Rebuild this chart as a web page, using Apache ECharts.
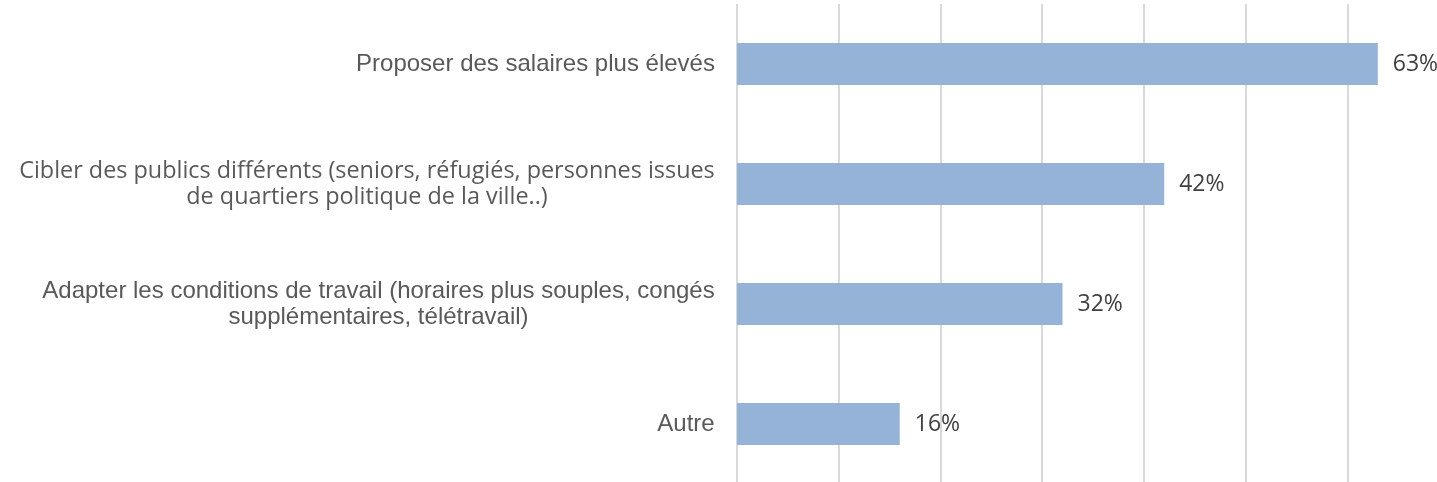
<!DOCTYPE html>
<html>
<head>
<meta charset="utf-8">
<script src="https://cdn.jsdelivr.net/npm/echarts@6/dist/echarts.min.js"></script>
<style>
  html, body { margin: 0; padding: 0; background: #fff; }
  #chart { width: 1437px; height: 482px; }
</style>
</head>
<body>
<div id="chart"></div>
<script>
const categories = [
  'Proposer des salaires plus élevés',
  'Cibler des publics différents (seniors, réfugiés, personnes issues\nde quartiers politique de la ville..)',
  'Adapter les conditions de travail (horaires plus souples, congés\nsupplémentaires, télétravail)',
  'Autre'
];
const values = [63, 42, 32, 16];

// the second label uses another typeface in the source
const fonts = ['Liberation Sans', 'Open Sans', 'Liberation Sans', 'Liberation Sans'];
const sizes = [24, 23.4, 24, 24];

// multi-line labels are centred on their longest line
const ctx = document.createElement('canvas').getContext('2d');
const rich = {};
categories.forEach((c, i) => {
  ctx.font = sizes[i] + 'px "' + fonts[i] + '"';
  const w = Math.max(...c.split('\n').map(l => ctx.measureText(l).width));
  rich['r' + i] = {
    width: Math.ceil(w) + 2,
    align: 'center',
    fontFamily: fonts[i],
    fontSize: sizes[i],
    lineHeight: 26,
    color: '#595959'
  };
});

const chart = echarts.init(document.getElementById('chart'));
chart.setOption({
  animation: false,
  grid: { left: 737, width: 712, top: 4, bottom: -2, outerBoundsMode: 'none' },
  xAxis: {
    type: 'value',
    min: 0,
    max: 70,
    interval: 10,
    axisLabel: { show: false },
    axisLine: { show: false },
    axisTick: { show: false },
    splitLine: { lineStyle: { color: '#d9d9d9', width: 2 } }
  },
  yAxis: {
    type: 'category',
    inverse: true,
    data: categories,
    axisLine: { show: false },
    axisTick: { show: false },
    axisLabel: {
      margin: 21,
      align: 'right',
      formatter: function (v, i) {
        return v.split('\n').map(l => '{r' + i + '|' + l + '}').join('\n');
      },
      rich: rich
    }
  },
  series: [{
    type: 'bar',
    data: values,
    barWidth: '35%',
    itemStyle: { color: '#95b3d7' },
    label: {
      show: true,
      position: 'right',
      distance: 15,
      formatter: '{c}%',
      color: '#404040',
      fontFamily: 'Open Sans',
      fontSize: 23
    }
  }]
});
window.addEventListener('resize', () => chart.resize());
</script>
</body>
</html>
